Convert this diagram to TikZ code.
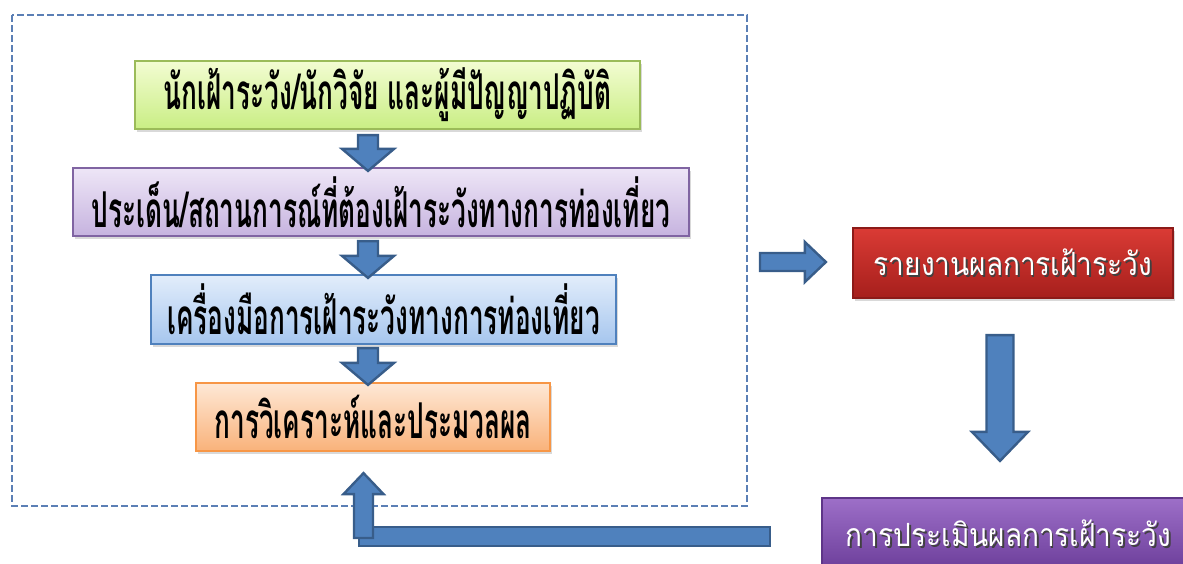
\documentclass[tikz,border=0pt]{standalone}
\usepackage{fontspec}
\usetikzlibrary{calc,shadows}
\newfontfamily\thaib[Script=Thai,FakeStretch=0.53]{Loma}
\newfontfamily\thair[Script=Thai,FakeStretch=0.875]{Loma}
\definecolor{arrowfill}{HTML}{4F81BD}
\definecolor{arrowedge}{HTML}{385D8A}
\definecolor{framecol}{HTML}{5B7FB5}
\definecolor{gtop}{HTML}{F3FCD2}\definecolor{gbot}{HTML}{C9EE84}\definecolor{gedge}{HTML}{9BBB59}
\definecolor{ptop}{HTML}{EEE6F7}\definecolor{pbot}{HTML}{C6B3DF}\definecolor{pedge}{HTML}{8064A2}
\definecolor{btop}{HTML}{E2EDFB}\definecolor{bbot}{HTML}{A6C6EE}\definecolor{bedge}{HTML}{4F81BD}
\definecolor{otop}{HTML}{FEE8D6}\definecolor{obot}{HTML}{F9B27A}\definecolor{oedge}{HTML}{F79646}
\definecolor{rtop}{HTML}{DA3B35}\definecolor{rbot}{HTML}{A61F1C}\definecolor{redge}{HTML}{8C1A18}
\definecolor{vtop}{HTML}{9D6FC8}\definecolor{vbot}{HTML}{6C3E9A}\definecolor{vedge}{HTML}{5E3588}
\newlength\upx \setlength\upx{0.5pt}
\newcommand\shtext[1]{\leavevmode\rlap{\kern0.9pt\raisebox{-0.9pt}{\color{black!75}#1}}{\color{white}#1}}
\tikzset{
  x=0.5pt, y=-0.5pt,
  shad/.style={drop shadow={shadow xshift=1.2pt, shadow yshift=-1.6pt, opacity=0.3}},
  lbox/.style={line width=1.1pt, inner sep=0pt, shad, text=black,
    font=\thaib\bfseries\fontsize{24.7}{29}\selectfont},
  rbox/.style={line width=1.1pt, inner sep=0pt, shad,
    font=\thair\fontsize{16}{19}\selectfont},
  frame/.style={draw=framecol, line width=1pt, dash pattern=on 3.5pt off 1.5pt},
  blockarrow/.style n args={3}{draw=arrowedge, fill=arrowfill, line width=1.2pt, line join=miter,
    to path={($(\tikztostart)!#1!90:(\tikztotarget)$)
      -- ($($(\tikztotarget)!#3!(\tikztostart)$)!#1!90:(\tikztotarget)$)
      -- ($($(\tikztotarget)!#3!(\tikztostart)$)!#2!90:(\tikztotarget)$)
      -- (\tikztotarget)
      -- ($($(\tikztotarget)!#3!(\tikztostart)$)!#2!-90:(\tikztotarget)$)
      -- ($($(\tikztotarget)!#3!(\tikztostart)$)!#1!-90:(\tikztotarget)$)
      -- ($(\tikztostart)!#1!-90:(\tikztotarget)$) -- cycle}},
  barstyle/.style={draw=arrowedge, fill=arrowfill, line width=1.2pt}
}
\begin{document}
\begin{tikzpicture}
\useasboundingbox (0,0) rectangle (1183,563);
\clip (0,0) rectangle (1183,563);
% frame
\draw[frame] (12,15) rectangle (747,506);
% left boxes
\node[lbox, draw=gedge, top color=gtop, bottom color=gbot, minimum width=505\upx, minimum height=68\upx] (b1) at (387.5,95) {นักเฝ้าระวัง/นักวิจัย และผู้มีปัญญาปฏิบัติ};
\node[lbox, draw=pedge, top color=ptop, bottom color=pbot, minimum width=616\upx, minimum height=68\upx] (b2) at (381,202) {ประเด็น/สถานการณ์ที่ต้องเฝ้าระวังทางการท่องเที่ยว};
\node[lbox, draw=bedge, top color=btop, bottom color=bbot, minimum width=465\upx, minimum height=69\upx] (b3) at (383.5,309.5) {เครื่องมือการเฝ้าระวังทางการท่องเที่ยว};
\node[lbox, draw=oedge, top color=otop, bottom color=obot, minimum width=354\upx, minimum height=68\upx] (b4) at (373,417) {การวิเคราะห์และประมวลผล};
% right boxes
\node[rbox, draw=redge, top color=rtop, bottom color=rbot, minimum width=320\upx, minimum height=70\upx] (rep) at (1013,263) {\shtext{รายงานผลการเฝ้าระวัง}};
\node[rbox, draw=vedge, top color=vtop, bottom color=vbot, minimum width=373\upx, minimum height=72\upx] (eva) at (1008.5,534) {\shtext{การประเมินผลการเฝ้าระวัง}};
% column of the small arrows
\coordinate (ax) at (368,0);
\draw[blockarrow={5pt}{13pt}{11pt}] ($(b1.south -| ax)+(0,5)$) to ($(b2.north -| ax)+(0,4)$);
\draw[blockarrow={5pt}{13pt}{11pt}] ($(b2.south -| ax)+(0,4)$) to ($(b3.north -| ax)+(0,4)$);
\draw[blockarrow={5pt}{13pt}{11pt}] ($(b3.south -| ax)+(0,3)$) to ($(b4.north -| ax)+(0,3)$);
% arrow to report
\coordinate (ra1) at (760,262);
\coordinate (ra2) at ($(rep.west)+(-26,-1)$);
\draw[blockarrow={4.5pt}{10pt}{10.5pt}] (ra1) to (ra2);
% arrow report -> evaluation
\coordinate (da1) at ($(rep.south)+(-13,36)$);
\coordinate (da2) at ($(eva.north)+(-8.5,-36)$);
\draw[blockarrow={6.75pt}{14pt}{14.5pt}] (da1) to (da2);
% feedback bar and up arrow
\coordinate (fb1) at (359,527);
\coordinate (fb2) at (770,546);
\draw[barstyle] (fb1) rectangle (fb2);
\coordinate (ua1) at (363.5,538);
\coordinate (ua2) at ($(b4.south)+(-9.5,21)$);
\draw[blockarrow={4.75pt}{10pt}{10.5pt}] (ua1) to (ua2);
\end{tikzpicture}
\end{document}
